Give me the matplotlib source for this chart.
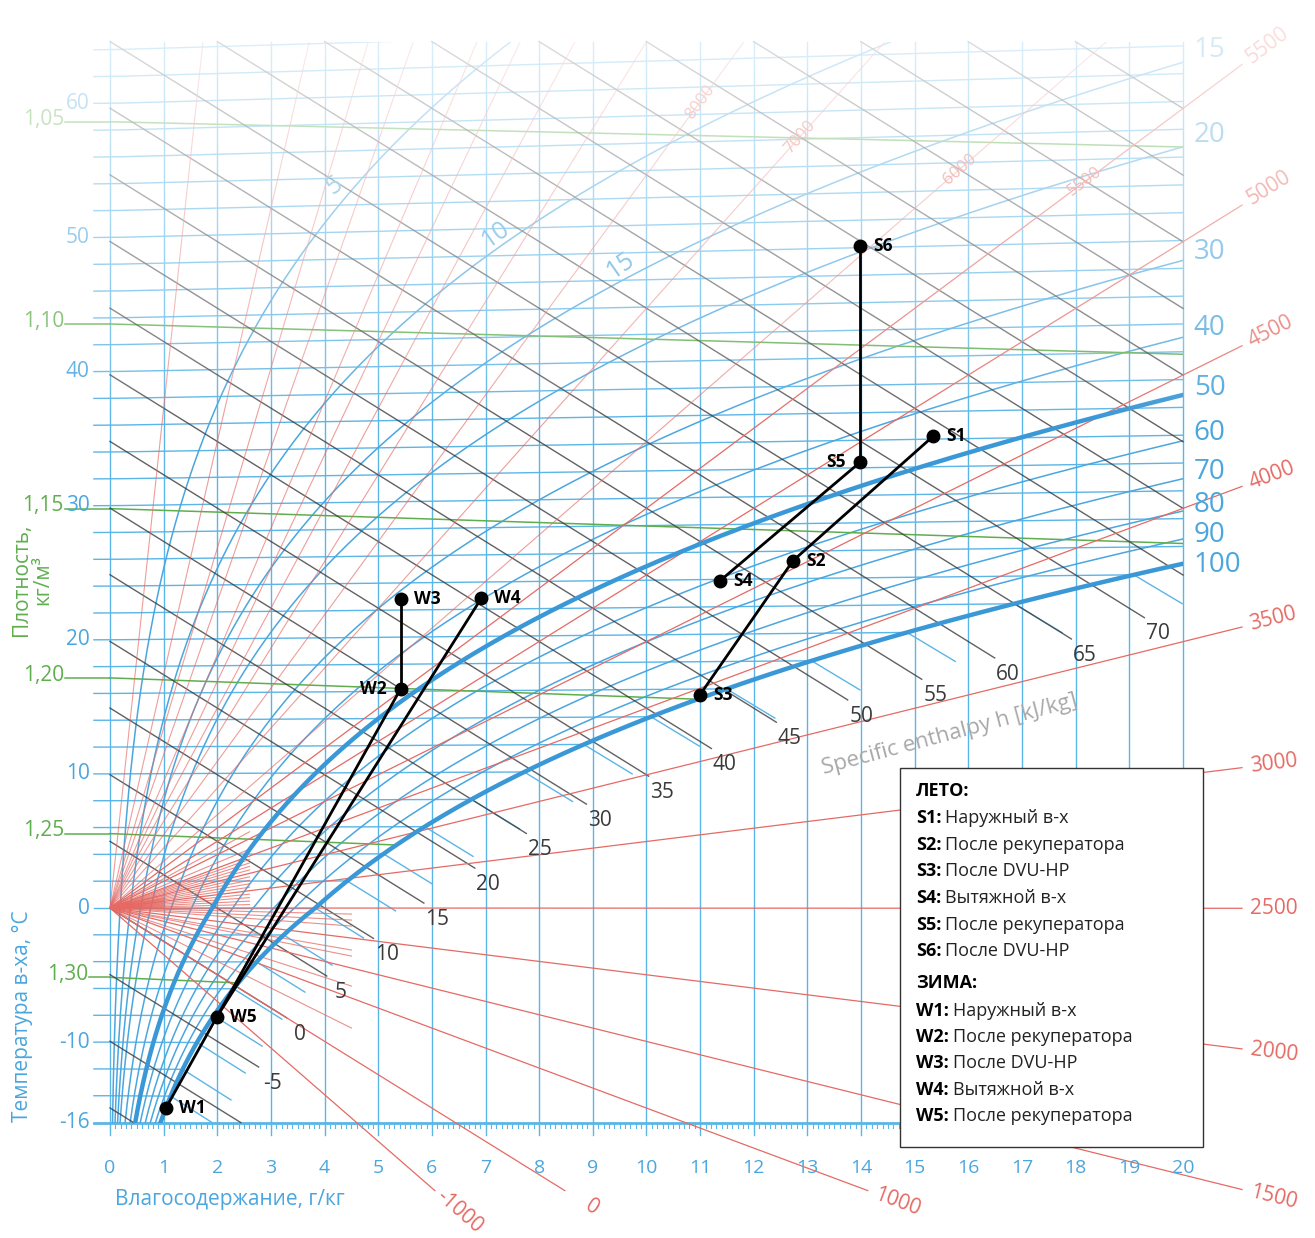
import numpy as np
import matplotlib.pyplot as plt
from matplotlib.patches import Rectangle

plt.rcParams['font.family'] = ['Open Sans', 'DejaVu Sans']

# ---------------- values ----------------
P_KPA = 100.0                       # chart pressure
temp_ticks = [60, 50, 40, 30, 20, 10, 0, -10, -16]
x_ticks = list(range(0, 21))
density_levels = [1.05, 1.10, 1.15, 1.20, 1.25, 1.30]
density_labels = ['1,05', '1,10', '1,15', '1,20', '1,25', '1,30']
rh_levels = [5, 10, 15, 20, 30, 40, 50, 60, 70, 80, 90, 100]
rh_thick = [50, 100]
rh_edge_labels = [15, 20, 30, 40, 50, 60, 70, 80, 90, 100]
rh_edge_label_py = [50, 135, 252, 328, 388, 433, 472, 505, 535, 565]
rh_inner_labels = ['5', '10', '15']
rh_inner_x = [4.19, 7.18, 9.51]
rh_inner_y = [54.2, 50.5, 48.2]
enthalpy_levels = list(range(-15, 115, 5))
enthalpy_labels = [-5, 0, 5, 10, 15, 20, 25, 30, 35, 40, 45, 50, 55, 60, 65, 70]
enthalpy_label_x = [3.02, 3.54, 4.29, 5.16, 6.10, 7.05, 8.01, 9.13, 10.29,
                    11.46, 12.67, 14.0, 15.38, 16.74, 18.17, 19.53]
edge_q_labelled = [-1000, 0, 1000, 1500, 2000, 2500, 3000, 3500, 4000, 4500, 5000, 5500]
edge_q_long = [6000, 7000, 8000, 9000, 10000, 11000, 12000, 14000, 16000, 20000, 40000]
edge_q_short = [2550, 2600, 2650, 2700, 2750, 2800, 2850, 2900, 2950, 3050, 3100,
                3150, 3200, 3250, 3300, 3400, 3450, 3600, 3700, 3800, 3900, 4200,
                4700, 2200, 2300, 2400, 2450, 1800, 1700, 1200, 500]
edge_short_len = [1.0, 2.6, 1.0, 2.6, 1.0, 2.6, 1.0, 2.6, 1.0, 1.0, 2.6,
                  1.0, 2.6, 1.0, 2.6, 2.6, 1.0, 2.6, 2.6, 2.6, 2.6, 2.6,
                  2.6, 4.5, 4.5, 4.5, 1.5, 4.5, 4.5, 4.5, 4.5]
edge_inner_q = [5500, 6000, 7000, 8000]
edge_inner_x = [18.17, 15.84, 12.86, 11.0]

point_names = ['S1', 'S2', 'S3', 'S4', 'S5', 'S6', 'W1', 'W2', 'W3', 'W4', 'W5']
point_x = [15.34, 12.73, 11.0, 11.37, 13.98, 13.98, 1.04, 5.42, 5.42, 6.92, 1.99]
point_t = [34.2, 25.3, 15.6, 23.9, 32.4, 48.1, -14.9, 16.2, 22.8, 22.8, -8.1]
label_left = ['S5', 'W2']
process_lines = [('S1', 'S2'), ('S2', 'S3'), ('S4', 'S5'), ('S5', 'S6'),
                 ('W1', 'W5'), ('W5', 'W2'), ('W2', 'W3'), ('W4', 'W5')]

legend_rows = [('ЛЕТО:', ''),
               ('S1:', 'Наружный в-х'), ('S2:', 'После рекуператора'),
               ('S3:', 'После DVU-HP'), ('S4:', 'Вытяжной в-х'),
               ('S5:', 'После рекуператора'), ('S6:', 'После DVU-HP'),
               ('ЗИМА:', ''),
               ('W1:', 'Наружный в-х'), ('W2:', 'После рекуператора'),
               ('W3:', 'После DVU-HP'), ('W4:', 'Вытяжной в-х'),
               ('W5:', 'После рекуператора')]

# ---------------- psychrometrics ----------------
def psat(t):
    t = np.asarray(t, dtype=float)
    return np.where(t >= 0, 0.6112 * np.exp(17.62 * t / (243.12 + t)),
                    0.6112 * np.exp(22.46 * t / (272.62 + t)))

def x_of(t, phi):
    pv = phi * psat(t)
    return 622.0 * pv / (P_KPA - pv)

def yof(x, t):
    # skewed Mollier ordinate: h - r*x  (kJ/kg)
    return t * (1.006 + 0.00186 * x)

def t_of_rho(rho, x):
    T = P_KPA * 1000 * (1 + x / 1000) / (287.05 * rho * (1 + 1.608 * x / 1000))
    return T - 273.15

# ---------------- figure ----------------
SX, SY = 53.65, 13.33          # px per g/kg, px per kJ/kg
fig = plt.figure(figsize=(13.15, 12.38), dpi=100)
ax = fig.add_axes([0, 0, 1, 1])
ax.axis('off')
XL = (-110 / SX, (1315 - 110) / SX)
YL = (-(1238 - 908) / SY, 908 / SY)
ax.set_xlim(*XL)
ax.set_ylim(*YL)

YTOP, YBOT = 65.0, -16.1
clip = Rectangle((-1.0, YBOT), 21.0, YTOP - YBOT, transform=ax.transData)

def cplot(xs, ys, **kw):
    ln, = ax.plot(xs, ys, **kw)
    ln.set_clip_path(clip)
    return ln

BLUE = '#5bb5e6'
BLUE_D = '#3b98d6'
RED = '#e56a64'
GREEN = '#5fae4e'
BLACK = '#3a3a3a'
LBL_BLUE = '#4ba6de'

# vertical grid
for xv in x_ticks:
    ax.plot([xv, xv], [-17.0, YTOP], color=BLUE, lw=1.0, zorder=1)
# ruler at bottom
ax.plot([-0.3, 20], [YBOT, YBOT], color=BLUE, lw=2.0, zorder=2)
for xm in np.arange(0, 20.01, 0.1):
    ax.plot([xm, xm], [YBOT, YBOT - 0.4], color=BLUE, lw=0.8, zorder=2)

# isotherms every 2 degC, ending at saturation
for t in range(-14, 66, 2):
    xe = min(20.0, float(x_of(t, 1.0)))
    xs = np.linspace(-0.3, xe, 40)
    cplot(xs, yof(np.clip(xs, 0, None), t), color=BLUE, lw=1.0, zorder=1)
    # fog isotherm stub below saturation
    if xe < 19.6:
        dx = np.array([0, 0.9])
        ys = yof(xe, t) + (-2.501 + 0.00419 * t) * dx
        cplot(xe + dx, ys, color=BLUE, lw=1.0, zorder=1)

# relative humidity curves
tt = np.linspace(-16, 75, 900)
for phi in rh_levels:
    xx = x_of(tt, phi / 100)
    yy = yof(xx, tt)
    thick = phi in rh_thick
    cplot(xx, yy, color=BLUE_D if thick else '#4aa6df',
          lw=3.2 if thick else 1.1, zorder=3 if thick else 2)

# density lines
for rho, lab in zip(density_levels, density_labels):
    xx = np.linspace(0, 20, 200)
    tr = t_of_rho(rho, xx)
    ok = xx <= x_of(tr, 1.0)
    xx, tr = xx[ok], tr[ok]
    cplot(xx, yof(xx, tr), color=GREEN, lw=1.1, zorder=2)
    y0 = yof(0, tr[0])
    lx = -0.41 if lab == '1,30' else -0.86
    ax.plot([lx + 0.02, 0], [y0, y0], color=GREEN, lw=1.1, zorder=2)
    ax.text(lx, y0 + 0.2, lab, color=GREEN, fontsize=15, ha='right', va='center')

# enthalpy lines
for h in enthalpy_levels:
    x0 = max(0.0, (h - YTOP) / 2.501)
    if h in enthalpy_labels:
        lx = enthalpy_label_x[enthalpy_labels.index(h)]
        x1 = lx - 0.25
        ax.text(lx, h - 2.501 * lx - 0.6, str(h), color=BLACK, fontsize=15,
                ha='center', va='center', zorder=4)
    else:
        x1 = min(20.0, (h - YBOT) / 2.501)
    if x1 <= x0:
        continue
    ax.plot([x0, x1], [h - 2.501 * x0, h - 2.501 * x1], color=BLACK,
            lw=1.0, alpha=0.8, zorder=2)

ax.text(15.66, 12.98, 'Specific enthalpy h [kJ/kg]', color='#a8a8a8',
        fontsize=16, rotation=15, ha='center', va='center', zorder=4)

# edge scale (enthalpy / moisture ratio) rays from origin
def ray_end(slope, xmax, ymin):
    xe = xmax
    if slope < 0 and slope * xe < ymin:
        xe = ymin / slope
    return xe

for q in edge_q_labelled:
    s = (q - 2501) / 1000.0
    xe = ray_end(s, 21.1, -21.2)
    ax.plot([0, xe], [0, s * xe], color=RED, lw=0.9, zorder=2)
    ang = np.arctan2(s * SY, SX)
    ex, ey = xe * SX + 32 * np.cos(ang), s * xe * SY + 32 * np.sin(ang)
    ax.text(ex / SX, ey / SY, str(q), color=RED, fontsize=15,
            rotation=np.degrees(ang), ha='center', va='center',
            rotation_mode='anchor', zorder=4)
for q in edge_q_long:
    s = (q - 2501) / 1000.0
    xe = min(20.0, YTOP / s)
    cplot([0, xe], [0, s * xe], color=RED, lw=0.8, alpha=0.65, zorder=2)
for q, ln in zip(edge_q_short, edge_short_len):
    s = (q - 2501) / 1000.0
    cplot([0, ln], [0, s * ln], color=RED, lw=0.8, alpha=0.75, zorder=2)
for q, xi in zip(edge_inner_q, edge_inner_x):
    s = (q - 2501) / 1000.0
    ang = np.degrees(np.arctan2(s * SY, SX))
    ax.text(xi, s * xi, str(q), color=RED, fontsize=12, rotation=ang,
            ha='center', va='center', rotation_mode='anchor', zorder=4)

# relative humidity labels
for phi, lpy in zip(rh_edge_labels, rh_edge_label_py):
    ax.text(20.2, (908 - lpy) / SY, str(phi), color=LBL_BLUE, fontsize=20,
            ha='left', va='center', zorder=4)
for lab, xi, yi in zip(rh_inner_labels, rh_inner_x, rh_inner_y):
    ax.text(xi, yi, lab, color=LBL_BLUE, fontsize=18, rotation=35,
            ha='center', va='center', zorder=4)

# axis labels
for t in temp_ticks:
    ax.text(-0.38, yof(0, t), str(t), color=LBL_BLUE, fontsize=15,
            ha='right', va='center', zorder=4)
for xv in x_ticks:
    ax.text(xv, -19.5, str(xv), color=LBL_BLUE, fontsize=14, ha='center',
            va='center', zorder=4)
ax.text(2.24, -21.9, 'Влагосодержание, г/кг', color=LBL_BLUE, fontsize=15,
        ha='center', va='center')
ax.text(-1.63, yof(0, -8.1), 'Температура в-ха, °С', color=LBL_BLUE,
        fontsize=15, rotation=90, ha='center', va='center')
ax.text(-1.45, 24.6, 'Плотность,\nкг/м³', color=GREEN, fontsize=15,
        rotation=90, ha='center', va='center', linespacing=1.0)

# fading of the top part of the chart
py = np.linspace(0, 420, 200)
alpha = 0.85 * (1 - py / 420) ** 0.8
fade = np.ones((len(py), 2, 4))
fade[:, :, 3] = alpha[:, None]
ax.imshow(fade, extent=(XL[0], XL[1], (908 - 420) / SY, YL[1]),
          aspect='auto', zorder=6, interpolation='bilinear')

# process points
px = dict(zip(point_names, point_x))
py_ = {n: yof(x, t) for n, x, t in zip(point_names, point_x, point_t)}
for a, b in process_lines:
    ax.plot([px[a], px[b]], [py_[a], py_[b]], color='black', lw=2.0, zorder=10)
for n in point_names:
    ax.plot(px[n], py_[n], 'o', color='black', ms=9, zorder=11)
    if n in label_left:
        ax.text(px[n] - 14 / SX, py_[n], n, fontsize=12.5, fontweight='bold',
                ha='right', va='center', zorder=11)
    else:
        ax.text(px[n] + 13 / SX, py_[n], n, fontsize=12.5, fontweight='bold',
                ha='left', va='center', zorder=11)

# legend box
bx0, bx1 = (900 - 110) / SX, (1203 - 110) / SX
by0, by1 = (908 - 1147) / SY, (908 - 768) / SY
ax.add_patch(Rectangle((bx0, by0), bx1 - bx0, by1 - by0, facecolor='white',
                       edgecolor='#333333', lw=1.0, zorder=20))
row_py = [791, 818, 845, 871, 898, 925, 951, 983, 1011, 1037, 1063, 1090, 1116]
ax.set_xlim(*XL)
ax.set_ylim(*YL)
renderer = fig.canvas.get_renderer()
lx0 = (916 - 110) / SX
for (bold, rest), ry in zip(legend_rows, row_py):
    yy = (908 - ry) / SY
    tb = ax.text(lx0, yy, bold, fontsize=13, fontweight='bold', ha='left',
                 va='center', zorder=21)
    if rest:
        bb = tb.get_window_extent(renderer)
        xd = ax.transData.inverted().transform((bb.x1 + 4, bb.y0))[0]
        ax.text(xd, yy, rest, fontsize=13, ha='left', va='center',
                color='#222222', zorder=21)

ax.set_xlim(*XL)
ax.set_ylim(*YL)
fig.savefig('out.png', dpi=100, facecolor='white')
